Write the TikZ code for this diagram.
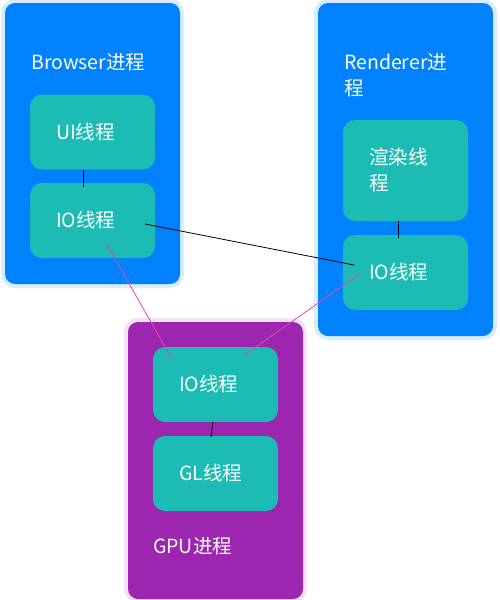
\documentclass[tikz,border=0pt]{standalone}
\usepackage{fontspec}
\setmainfont{Noto Sans CJK SC}
\usepackage{tikz}
\usetikzlibrary{calc}

\definecolor{procblue}{RGB}{0,130,255}
\definecolor{procpurple}{RGB}{156,38,176}
\definecolor{threadteal}{RGB}{28,188,180}
\definecolor{glowblue}{RGB}{218,236,255}
\definecolor{glowpurple}{RGB}{242,226,246}
\definecolor{linkpink}{RGB}{228,72,160}

\begin{document}
\begin{tikzpicture}[x=1pt,y=-1pt,
    proc/.style={rounded corners=10pt,minimum width=175pt,outer sep=0pt,inner sep=0pt},
    proctitle/.style={anchor=west,align=left,text=white,inner sep=0pt,font=\fontsize{19.5}{26}\selectfont},
    thread/.style={rounded corners=12pt,fill=threadteal,text=white,minimum height=75pt,
        text width=73pt,inner xsep=26pt,inner ysep=0pt,outer sep=0pt,align=left,
        font=\fontsize{19.5}{26}\selectfont}]
\useasboundingbox (0,0) rectangle (500,600);
\begin{scope}[every node/.style={proc}]
    \node[fill=procblue,preaction={draw=glowblue,line width=8pt},minimum height=281pt] (browser) at (92.5,143.5) {};
    \node[fill=procblue,preaction={draw=glowblue,line width=8pt},minimum height=333pt] (renderer) at (405.5,169.5) {};
    \node[fill=procpurple,preaction={draw=glowpurple,line width=8pt},minimum height=277pt] (gpu) at (215.5,460.5) {};
\end{scope}
\begin{scope}[every node/.style={proctitle}]
    \node (browsertitle) at (31,62) {Browser进程};
    \node (renderertitle) at (344,75) {Renderer进\\程};
    \node (gputitle) at (153,546) {GPU进程};
\end{scope}
\begin{scope}[every node/.style={thread}]
    \node (ui) at (92.5,132) {UI线程};
    \node (bio) at (92.5,220.5) {IO线程};
    \node[minimum height=101pt] (render) at (405.5,170.5) {渲染线\\程};
    \node (rio) at (405.5,272.5) {IO线程};
    \node (gio) at (215.5,384.5) {IO线程};
    \node (gl) at (215.5,473.5) {GL线程};
\end{scope}
\begin{scope}[line width=0.8pt]
    \path[draw] ([xshift=-9.5pt]ui.south) -- ([xshift=-9.5pt,yshift=-4pt]bio.north);
    \path[draw] ([xshift=-7.5pt]render.south) -- ([xshift=-7.5pt,yshift=-3pt]rio.north);
    \path[draw] ([xshift=-2.5pt]gio.south) -- ([xshift=-4.5pt,yshift=-1pt]gl.north);
    \path[draw] ([shift={(52.5pt,-3.5pt)}]bio.center) -- ([shift={(-51.5pt,7.5pt)}]rio.center);
    \path[draw=linkpink] ([shift={(13.5pt,-22.5pt)}]bio.center) -- ([shift={(-43.5pt,25.5pt)}]gio.center);
    \path[draw=linkpink] ([shift={(-44.5pt,-0.5pt)}]rio.center) -- ([shift={(27.5pt,28.5pt)}]gio.center);
\end{scope}
\end{tikzpicture}
\end{document}
